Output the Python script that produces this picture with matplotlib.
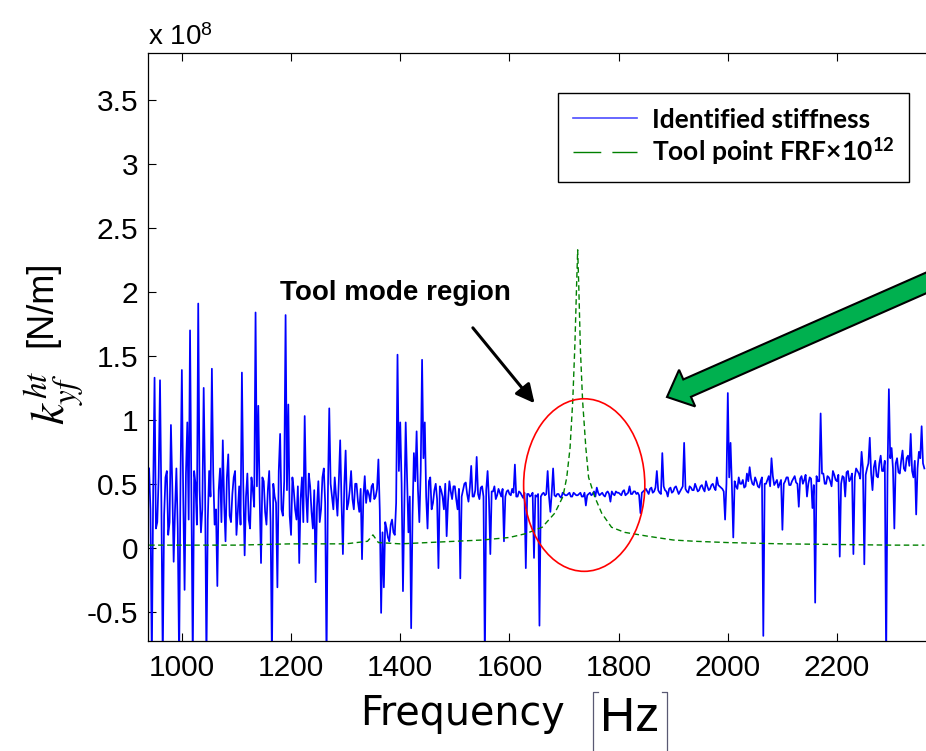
import numpy as np
import matplotlib
matplotlib.use("Agg")
import matplotlib.pyplot as plt
import matplotlib.patches as mpatches
from matplotlib.lines import Line2D
from matplotlib.transforms import IdentityTransform

plt.rcParams["font.family"] = ["Liberation Sans", "DejaVu Sans"]
plt.rcParams["mathtext.fontset"] = "stix"
plt.rcParams["axes.unicode_minus"] = False

# identified stiffness [x1e8 N/m], read every 5 Hz from 940 Hz to 2360 Hz
stiffness = [
    0.62, -0.90, 1.33, 0.20, 1.31, -0.90, 0.55, 0.10, 0.96, -0.11, 0.62, -0.90, 1.39, -0.33, 0.98, 1.70, -0.90, 0.50, 1.91, 0.12,
    1.25, -0.90, 0.60, 1.40, 0.18, -0.30, 0.62, 0.84, 0.05, 0.73, 0.20, 0.55, 0.10, 0.48, 1.37, -0.06, 0.58, 0.15, 0.45, 1.84,
    1.11, -0.12, 0.52, 0.18, 0.60, -0.90, 0.40, -0.31, 0.89, 0.25, 1.82, 1.12, 0.10, 0.45, 0.22, -0.12, 0.55, 1.03, 0.20, 0.48,
    0.15, -0.27, 0.52, 0.30, 0.62, -0.90, 1.09, 0.40, 0.55, 0.25, 0.84, -0.05, 0.76, 0.35, 0.60, 0.30, 0.50, 0.28, -0.09, 0.56,
    0.45, 0.36, 0.50, 0.40, 0.69, -0.51, -0.31, 0.15, 0.05, 0.22, 0.10, 1.51, 0.98, -0.34, 0.98, 0.12, -0.63, 0.74, 0.91, 0.20,
    1.47, 0.98, 0.15, 0.55, 0.35, 0.50, -0.16, 0.45, 0.30, 0.09, 0.52, 0.38, 0.48, 0.30, -0.24, 0.45, 0.51, 0.36, 0.64, 0.40,
    0.71, 0.38, 0.48, -0.90, 0.60, -0.05, 0.44, 0.38, 0.46, 0.40, 0.05, 0.44, 0.42, 0.46, 0.65, 0.40, 0.43, 0.39, -0.16, 0.42,
    0.41, -0.08, 0.40, -0.61, 0.42, 0.41, 0.60, 0.28, 0.62, 0.40, 0.42, 0.39, 0.42, 0.41, 0.43, 0.40, 0.42, 0.41, 0.43, 0.40,
    0.33, 0.42, 0.41, 0.44, 0.47, 0.41, 0.43, 0.40, 0.44, 0.36, 0.42, 0.44, 0.43, 0.41, 0.45, 0.42, 0.48, 0.42, 0.44, 0.43,
    0.27, 0.44, 0.46, 0.42, 0.47, 0.44, 0.60, 0.43, 0.74, 0.45, 0.40, 0.47, 0.44, 0.48, 0.42, 0.46, 0.82, 0.44, 0.48, 0.45,
    0.50, 0.44, 0.48, 0.46, 0.52, 0.45, 0.49, 0.47, 0.55, 0.48, 0.46, 0.22, 1.21, 0.82, 0.08, 0.48, 0.55, 0.50, 0.47, 0.58,
    0.63, 0.50, 0.55, 0.48, 0.52, -0.69, 0.50, 0.56, 0.70, 0.49, 0.53, 0.50, 0.14, 0.52, 0.55, 0.49, 0.54, 0.51, 0.32, 0.56,
    0.53, 0.40, 0.55, 0.31, -0.43, 0.52, 1.05, 0.58, 0.50, 0.55, 0.48, 0.57, 0.52, -0.07, 0.56, 0.40, 0.60, 0.54, -0.05, 0.62,
    0.58, 0.75, -0.13, 0.62, 0.86, 0.45, 0.68, 0.55, 0.72, 0.60, -0.90, 1.24, 0.78, 0.15, 0.70, 0.58, 0.76, 0.60, 0.72, 0.89,
    0.55, 0.26, 0.75, 0.95, 0.62,
]
# body of the noisy band, read half-way between the 5 Hz samples (942.5 Hz ... 2357.5 Hz)
stiffness_mid = [
    0.30, 0.45, 0.15, 0.55, 0.35, 0.25, 0.60, 0.20, 0.48, 0.30, 0.15, 0.52, 0.40, 0.58, 0.22, 0.35, 0.60, 0.18, 0.45, 0.30,
    0.50, 0.22, 0.40, 0.58, 0.30, 0.45, 0.20, 0.35, 0.55, 0.25, 0.42, 0.60, 0.28, 0.18, 0.50, 0.40, 0.22, 0.55, 0.32, 0.48,
    0.40, 0.55, 0.28, 0.45, 0.20, 0.50, 0.35, 0.60, 0.30, 0.52, 0.45, 0.25, 0.55, 0.30, 0.48, 0.38, 0.20, 0.42, 0.58, 0.28,
    0.45, 0.32, 0.20, 0.55, 0.35, 0.42, 0.50, 0.30, 0.40, 0.52, 0.35, 0.48, 0.30, 0.45, 0.38, 0.50, 0.36, 0.46, 0.40, 0.35,
    0.42, 0.48, 0.38, 0.46, 0.30, 0.12, 0.20, 0.08, 0.18, 0.12, 0.35, 0.60, 0.50, 0.30, 0.55, 0.40, 0.25, 0.52, 0.45, 0.60,
    0.70, 0.40, 0.52, 0.30, 0.45, 0.38, 0.48, 0.40, 0.50, 0.36, 0.44, 0.48, 0.38, 0.46, 0.40, 0.50, 0.42, 0.47, 0.40, 0.45,
    0.42, 0.47, 0.40, 0.45, 0.38, 0.44, 0.48, 0.41, 0.43, 0.46, 0.40, 0.45, 0.41, 0.43, 0.40, 0.44, 0.41, 0.43, 0.42, 0.40,
    0.43, 0.41, 0.42, 0.40, 0.43, 0.42, 0.40, 0.43, 0.41, 0.42, 0.40, 0.43, 0.41, 0.42, 0.40, 0.43, 0.41, 0.42, 0.40, 0.43,
    0.41, 0.43, 0.42, 0.40, 0.43, 0.42, 0.41, 0.43, 0.42, 0.44, 0.41, 0.43, 0.42, 0.44, 0.41, 0.43, 0.42, 0.44, 0.42, 0.41,
    0.43, 0.45, 0.44, 0.46, 0.43, 0.47, 0.45, 0.42, 0.48, 0.44, 0.46, 0.43, 0.47, 0.45, 0.44, 0.48, 0.46, 0.43, 0.47, 0.45,
    0.47, 0.45, 0.49, 0.44, 0.48, 0.46, 0.50, 0.45, 0.49, 0.47, 0.44, 0.50, 0.55, 0.48, 0.52, 0.46, 0.50, 0.53, 0.48, 0.52,
    0.54, 0.49, 0.52, 0.47, 0.55, 0.50, 0.53, 0.48, 0.56, 0.51, 0.47, 0.53, 0.50, 0.55, 0.49, 0.52, 0.56, 0.50, 0.54, 0.50,
    0.57, 0.50, 0.54, 0.49, 0.56, 0.52, 0.58, 0.50, 0.56, 0.52, 0.60, 0.53, 0.57, 0.50, 0.55, 0.59, 0.52, 0.58, 0.55, 0.60,
    0.54, 0.62, 0.57, 0.66, 0.58, 0.63, 0.56, 0.66, 0.60, 0.68, 0.58, 0.70, 0.62, 0.66, 0.59, 0.68, 0.62, 0.70, 0.64, 0.60,
    0.68, 0.62, 0.70, 0.66,
]

# tool point FRF (scaled by 1e12)
frf_freq = [940, 1000, 1100, 1200, 1300, 1340, 1350, 1360, 1400, 1500, 1550, 1600, 1630, 1660,
            1683, 1698, 1705, 1711, 1716, 1720, 1723, 1725, 1727, 1730, 1734, 1740, 1745, 1756,
            1769, 1787, 1811, 1853, 1900, 1940, 2000, 2100, 2200, 2300, 2360]
frf_val = [0.02, 0.02, 0.02, 0.03, 0.03, 0.05, 0.10, 0.04, 0.03, 0.05, 0.06, 0.08, 0.11, 0.16,
           0.27, 0.40, 0.55, 0.78, 1.15, 1.60, 2.05, 2.33, 2.05, 1.55, 1.15, 0.78, 0.55, 0.40,
           0.27, 0.16, 0.12, 0.09, 0.06, 0.05, 0.04, 0.03, 0.025, 0.02, 0.02]

yticks = [-0.5, 0, 0.5, 1, 1.5, 2, 2.5, 3, 3.5]
xticks = [1000, 1200, 1400, 1600, 1800, 2000, 2200]

# interleave the two readings into one 2.5 Hz series
freq = np.arange(940, 2360.1, 2.5)
k_ht = np.empty(len(freq))
k_ht[0::2] = stiffness
k_ht[1::2] = stiffness_mid

W, H = 926, 751
fig = plt.figure(figsize=(W / 100, H / 100), dpi=100)
ax = fig.add_axes([148 / W, 1 - 641 / H, 1 - 148 / W, (641 - 53) / H])

ax.plot(freq, k_ht, color=(0, 0, 1), lw=1.25, zorder=2)
ax.plot(frf_freq, frf_val, color=(0, 0.5, 0), lw=1.0, dashes=(4, 2.5), zorder=3)

ax.set_xlim(938, 2363)
ax.set_ylim(-0.73, 3.87)
ax.set_xticks(xticks)
ax.set_yticks(yticks)
ax.set_yticklabels(["%g" % t for t in yticks])
ax.tick_params(direction="in", length=6, width=0.8, labelsize=21.5, top=True, right=False)
ax.tick_params(axis="x", pad=9)
ax.tick_params(axis="y", pad=7)
ax.spines["right"].set_visible(False)
for s in ["left", "top", "bottom"]:
    ax.spines[s].set_linewidth(0.9)

# legend
h1 = Line2D([], [], color=(0.3, 0.3, 1), lw=1.2)
h2 = Line2D([], [], color=(0, 0.5, 0), lw=1.0, dashes=(20, 8))
leg = ax.legend([h1, h2], ["Identified stiffness", "Tool point FRF×10$^{\\mathdefault{12}}$"],
                loc="upper left", bbox_to_anchor=(558 / W, 1 - 93 / H), bbox_transform=fig.transFigure,
                prop=dict(family="Lato", weight="bold", size=19), frameon=True, fancybox=False,
                framealpha=1, edgecolor="k", borderaxespad=0, handlelength=2.45,
                handletextpad=0.55, labelspacing=0.15, borderpad=0.55)
leg.get_frame().set_linewidth(1.0)

# annotations
ax.add_patch(mpatches.Ellipse((1737, 0.49), 222, 1.35, fill=False, ec="red", lw=1.2, zorder=4))
ax.annotate("", xy=(1646, 1.13), xytext=(1533, 1.72),
            arrowprops=dict(arrowstyle="-|>", color="k", lw=2.2, mutation_scale=28, shrinkA=0, shrinkB=0))
fig.text(280 / W, 1 - 300 / H, "Tool mode region", fontsize=20, fontweight="bold", va="baseline")

big = mpatches.FancyArrow(960, 751 - 268, 667 - 960, (751 - 397) - (751 - 268), width=19,
                          head_width=40, head_length=22, length_includes_head=True,
                          transform=IdentityTransform(), fc=(0, 0.69, 0.31), ec="k", lw=1.5)
fig.patches.append(big)

# axis labels, MATLAB style
fig.text(148 / W, 1 - 45 / H, "x 10$^{\\mathdefault{8}}$", fontsize=20, va="baseline")
fig.text(360 / W, 1 - 725 / H, "Frequency", fontsize=28.5, family="DejaVu Sans", va="baseline")
fig.text(600 / W, 1 - 731 / H, "Hz", fontsize=35, va="baseline")
for xb, dx in [(593, 5), (667, -5)]:
    fig.add_artist(Line2D([xb / W, xb / W, (xb + dx) / W], [0, 1 - 692 / H, 1 - 692 / H],
                          transform=fig.transFigure, color=(0.35, 0.35, 0.45), lw=0.9))
fig.text(55 / W, 1 - 398 / H, "$k_{yf}^{ht}$", fontsize=34, rotation=90, ha="center", va="center")
fig.text(42 / W, 1 - 304 / H, "[N/m]", fontsize=26, rotation=90, ha="center", va="center")

fig.savefig("out.png", dpi=100)
